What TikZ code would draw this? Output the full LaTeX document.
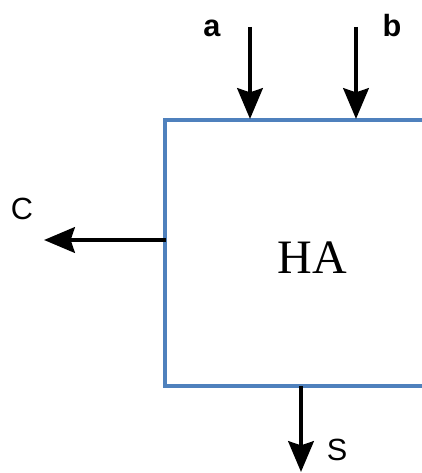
\documentclass[tikz,border=0pt]{standalone}
\usepackage{fontspec}
\setmainfont{Liberation Serif}
\setsansfont{Liberation Sans}
\usetikzlibrary{arrows.meta}
\definecolor{boxblue}{HTML}{4F81BD}
\begin{document}
\begin{tikzpicture}[x=0.75pt,y=-0.75pt,
  sig/.style={line width=3.4pt,-{Stealth[width=19pt,length=23pt,inset=3pt]}},
  lbl/.style={font=\sffamily\fontsize{23}{24}\selectfont,inner sep=0pt},
  boldlbl/.style={font=\sffamily\bfseries\fontsize{23}{24}\selectfont,inner sep=0pt},
  boxline/.style={draw=boxblue,line width=3.2pt}]
\useasboundingbox (0,0) rectangle (421,473);
% box (right side lies beyond the picture)
\coordinate (tl) at (165,120);
\coordinate (bl) at (165,386);
\coordinate (tr) at (440,120);
\coordinate (br) at (440,386);
\draw[boxline,line join=miter] (tr) -- (tl) -- (bl) -- (br);
\node[font=\rmfamily\fontsize{36}{40}\selectfont,inner sep=0pt] (ha) at (312,258) {HA};
% inputs
\coordinate (astart) at (250,27);
\coordinate (aend) at (250,119);
\coordinate (bstart) at (356,27);
\coordinate (bend) at (356,119);
\draw[sig] (astart) -- (aend);
\draw[sig] (bstart) -- (bend);
\node[boldlbl] (la) at (212,28) {a};
\node[boldlbl] (lb) at (392,26) {b};
% outputs
\coordinate (cstart) at (166,240);
\coordinate (cend) at (44,240);
\draw[sig] (cstart) -- (cend);
\node[lbl] (lc) at (22,209) {C};
\coordinate (sstart) at (301,386);
\coordinate (send) at (301,472);
\draw[sig] (sstart) -- (send);
\node[lbl] (ls) at (337,450) {S};
\end{tikzpicture}
\end{document}
